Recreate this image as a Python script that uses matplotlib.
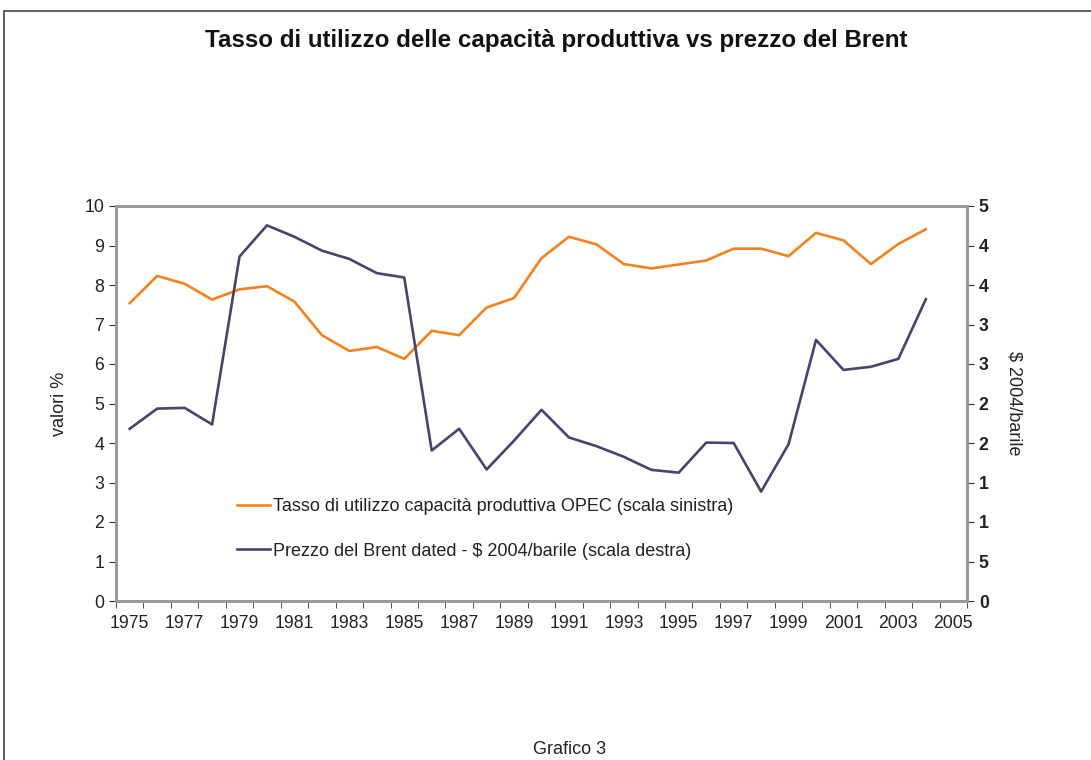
import numpy as np
import matplotlib.pyplot as plt
from matplotlib.patches import Rectangle

plt.rcParams['font.family'] = ['Liberation Sans', 'DejaVu Sans']

years = list(range(1975, 2005))
opec = [7.54, 8.23, 8.03, 7.63, 7.89, 7.97, 7.58, 6.73, 6.33, 6.43,
        6.13, 6.84, 6.73, 7.43, 7.67, 8.68, 9.22, 9.03, 8.53, 8.42,
        8.52, 8.62, 8.92, 8.92, 8.73, 9.32, 9.13, 8.53, 9.04, 9.41]
brent = [21.8, 24.35, 24.45, 22.35, 43.6, 47.55, 46.1, 44.35, 43.3, 41.5,
         40.95, 19.05, 21.8, 16.65, 20.3, 24.2, 20.7, 19.6, 18.25, 16.6,
         16.25, 20.05, 20.0, 13.85, 19.85, 33.05, 29.25, 29.65, 30.65, 38.2]
cats = list(range(1975, 2006))
right_ticks = [0, 5, 10, 15, 20, 25, 30, 35, 40, 45, 50]
right_labels = ["0", "5", "1", "1", "2", "2", "3", "3", "4", "4", "5"]

orange = "#F5821F"
purple = "#48436F"
grey = "#999999"
dark = "#333333"
txt = "#222222"

fig = plt.figure(figsize=(10.91, 7.6), dpi=100)
ax = fig.add_axes([116/1091, 1-601/760, (967-116)/1091, (601-206)/760])
ax2 = ax.twinx()

x = np.arange(len(years))
l1, = ax.plot(x, opec, color=orange, lw=1.9)
l2, = ax2.plot(x, brent, color=purple, lw=1.9)

ax.set_xlim(-0.5, len(cats) - 0.5)
ax.set_ylim(0, 10)
ax2.set_ylim(0, 50)
ax.set_yticks(range(0, 11))
ax.tick_params(axis='y', labelsize=12.7, color=dark, length=5, labelcolor=txt)
ax2.set_yticks(right_ticks)
ax2.set_yticklabels(right_labels, fontweight='bold')
ax2.tick_params(axis='y', labelsize=12.7, color=dark, length=5, labelcolor=txt)

ax.set_xticks(np.arange(len(cats) + 1) - 0.5, minor=True)
ax.set_xticks(np.arange(0, len(cats), 2))
ax.set_xticklabels([str(c) for c in cats[::2]])
ax.tick_params(axis='x', which='major', length=0, labelsize=12.7, pad=10, labelcolor=txt)
ax.tick_params(axis='x', which='minor', length=5, color=dark)

for a in (ax, ax2):
    for s in a.spines.values():
        s.set_color(grey)
        s.set_linewidth(2)

ax.set_ylabel("valori %", fontsize=13, labelpad=12, color=txt)
ax2.set_ylabel("$ 2004/barile", fontsize=13, rotation=-90, labelpad=24, color=txt)

ax.legend([l1, l2],
          ["Tasso di utilizzo capacità produttiva OPEC (scala sinistra)",
           "Prezzo del Brent dated - $ 2004/barile (scala destra)"],
          loc='center left', bbox_to_anchor=((237-116)/851, (601-529)/395),
          frameon=False, borderpad=0, borderaxespad=0,
          fontsize=13, handlelength=1.83, handletextpad=0.17, labelspacing=1.5,
          labelcolor=txt)

fig.text(556/1091, 1-40/760, "Tasso di utilizzo delle capacità produttiva vs prezzo del Brent",
         ha='center', va='center', fontsize=17.4, fontweight='bold', color="#111111")
fig.text(570/1091, 1-749/760, "Grafico 3", ha='center', va='center', fontsize=13,
         color=txt)

fig.patches.append(Rectangle((4/1091, -0.1), 1.2, 1-11/760+0.1, transform=fig.transFigure,
                             fill=False, edgecolor="#444444", lw=1.2))

fig.savefig("out.png", dpi=100)
